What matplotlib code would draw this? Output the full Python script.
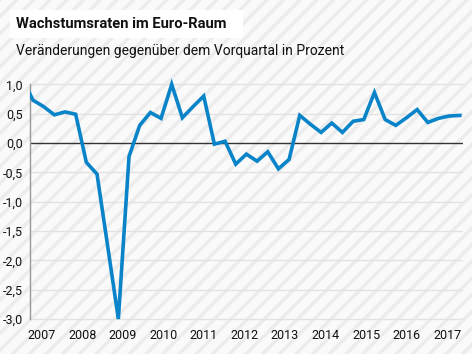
import numpy as np
import matplotlib
matplotlib.use("Agg")
import matplotlib.pyplot as plt
from matplotlib.patches import Rectangle

# Veraenderung des BIP gegenueber dem Vorquartal in Prozent (Euro-Raum)
# index 0 = 2007Q1, index -1 = 2006Q4 (only a sliver is visible)
quarter_idx = np.arange(-1, 41)
growth = [1.10, 0.73, 0.62, 0.48, 0.53, 0.49, -0.33, -0.53, -1.76, -3.0,
          -0.23, 0.30, 0.52, 0.42, 1.00, 0.43, 0.62, 0.80, -0.02, 0.03,
          -0.36, -0.19, -0.31, -0.15, -0.44, -0.28, 0.47, 0.32, 0.18, 0.34,
          0.18, 0.37, 0.40, 0.86, 0.40, 0.30, 0.43, 0.57, 0.35, 0.42, 0.46, 0.47]
years = ["2007", "2008", "2009", "2010", "2011", "2012",
         "2013", "2014", "2015", "2016", "2017"]
y_ticks = [1.0, 0.5, 0.0, -0.5, -1.0, -1.5, -2.0, -2.5, -3.0]

plt.rcParams["font.family"] = ["Roboto", "DejaVu Sans"]
plt.rcParams["hatch.color"] = "#ececec"
plt.rcParams["hatch.linewidth"] = 2.5

W, H = 472, 354
fig = plt.figure(figsize=(W / 100, H / 100), dpi=100)
fig.patch.set_facecolor("#fafafa")
fig.patches.append(Rectangle((0, 0), 1, 1, transform=fig.transFigure,
                             facecolor="#fafafa", edgecolor="#ececec",
                             hatch="//", linewidth=0, zorder=-2))
# white box behind title
fig.patches.append(Rectangle((10 / W, 1 - 38 / H), 233 / W, 28 / H,
                             transform=fig.transFigure, facecolor="white",
                             edgecolor="none", zorder=-1))
fig.text(16 / W, 1 - 24 / H, "Wachstumsraten im Euro-Raum", fontsize=10.6,
         fontweight="bold", va="center", ha="left", color="#111111", zorder=2)
fig.text(16 / W, 1 - 51.5 / H, "Veränderungen gegenüber dem Vorquartal in Prozent",
         fontsize=10, va="center", ha="left", color="#111111", zorder=2)

# axes placement: y=1.0 at px 84.3, y=-3.0 at px 319
ytop, ybot = 1.1, -3.15
px_per = (319 - 84.3) / 4.0
top_px = 143 - ytop * px_per
bot_px = 143 - ybot * px_per
ax = fig.add_axes([30 / W, 1 - bot_px / H, 432.7 / W, (bot_px - top_px) / H])
ax.set_facecolor("none")
ax.set_ylim(ybot, ytop)
ax.set_xlim(-0.28, 40.27)

for v in y_ticks:
    if v == 0:
        ax.axhline(v, color="#333333", lw=1.0, zorder=2)
    else:
        ax.axhline(v, color="#e2e2e2", lw=1.0, zorder=1)

ax.plot(quarter_idx, growth, color="#0a84c9", lw=2.6, zorder=3,
        solid_joinstyle="miter")

for s in ["top", "right", "bottom"]:
    ax.spines[s].set_visible(False)
ax.spines["left"].set_color("#999999")
ax.spines["left"].set_linewidth(1.0)
ax.spines["left"].set_bounds(-3.0, 1.0)

ax.set_yticks(y_ticks)
ax.set_yticklabels([f"{v:.1f}".replace(".", ",") for v in y_ticks])
ax.tick_params(axis="y", length=0, pad=5, labelsize=9, colors="#111111")

ax.set_xticks(np.linspace(0.84, 38.8, len(years)))
ax.set_xticklabels(years)
ax.tick_params(axis="x", length=0, pad=1, labelsize=9, colors="#111111")

fig.savefig("out.png", dpi=100)
